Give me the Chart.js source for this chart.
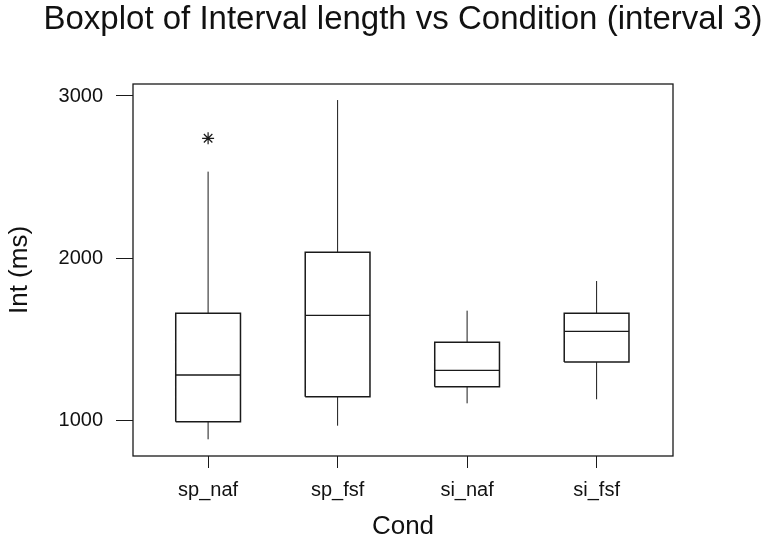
<!DOCTYPE html>
<html>
<head>
<meta charset="utf-8">
<script src="https://cdn.jsdelivr.net/npm/chart.js@4/dist/chart.umd.min.js"></script>
<style>
  body { margin: 0; background: #fff; }
  #wrap { width: 766px; height: 542px; }
</style>
</head>
<body>
<div id="wrap"><canvas id="boxChart"></canvas></div>
<script>
// values
const categories = ["sp_naf", "sp_fsf", "si_naf", "si_fsf"];
const lowWhisker = [881, 965, 1103, 1128];
const q1 = [990, 1144, 1206, 1358];
const median = [1278, 1646, 1307, 1547];
const q3 = [1659, 2035, 1480, 1659];
const highWhisker = [2533, 2975, 1675, 1858];
const outliers = [[2739], [], [], []];
const yTicks = [1000, 2000, 3000];

const half = 0.25;
const ink = "#1a1a1a";

// build the point lists the line datasets need
let boxPts = [], medPts = [], whiskPts = [], outPts = [];
categories.forEach(function (c, i) {
    boxPts.push({x: i - half, y: q1[i]}, {x: i + half, y: q1[i]}, {x: i + half, y: q3[i]},
        {x: i - half, y: q3[i]}, {x: i - half, y: q1[i]}, {x: i, y: null});
    medPts.push({x: i - half, y: median[i]}, {x: i + half, y: median[i]}, {x: i, y: null});
    whiskPts.push({x: i, y: q3[i]}, {x: i, y: highWhisker[i]}, {x: i, y: null},
        {x: i, y: lowWhisker[i]}, {x: i, y: q1[i]}, {x: i, y: null});
    outliers[i].forEach(function (v) { outPts.push({x: i, y: v}); });
});

const frame = {
    id: "frame",
    afterDatasetsDraw(chart) {
        const a = chart.chartArea, ctx = chart.ctx;
        ctx.save();
        ctx.strokeStyle = ink;
        ctx.lineWidth = 1.3;
        ctx.strokeRect(a.left, a.top, a.right - a.left, a.bottom - a.top);
        ctx.restore();
    }
};

const font = "'Liberation Sans', Arial, sans-serif";

new Chart(document.getElementById("boxChart"), {
    type: "scatter",
    data: {
        datasets: [
            {data: boxPts, showLine: true, spanGaps: false, borderColor: ink, borderWidth: 1.5,
                borderJoinStyle: "miter", pointRadius: 0},
            {data: medPts, showLine: true, spanGaps: false, borderColor: ink, borderWidth: 1.3, pointRadius: 0},
            {data: whiskPts, showLine: true, spanGaps: false, borderColor: ink, borderWidth: 1, pointRadius: 0},
            {data: outPts, showLine: false, pointStyle: "star", pointRadius: 6, borderColor: ink,
                borderWidth: 1.2, backgroundColor: ink}
        ]
    },
    options: {
        responsive: true,
        maintainAspectRatio: false,
        animation: false,
        // left padding keeps the title centred over the plot, the right axis below fills the margin
        layout: {padding: {left: 40, right: 0, top: 0, bottom: 0}},
        plugins: {
            legend: {display: false},
            tooltip: {enabled: false},
            title: {
                display: true,
                text: "Boxplot of Interval length vs Condition (interval 3)",
                color: "#111",
                font: {family: font, size: 33, weight: "normal", lineHeight: 1.0},
                padding: {top: 3, bottom: 48}
            }
        },
        scales: {
            x: {
                type: "linear",
                min: -0.58,
                max: 3.59,
                afterBuildTicks: function (s) { s.ticks = categories.map(function (c, i) { return {value: i}; }); },
                afterFit: function (s) { s.height = 86; },
                ticks: {
                    color: "#111",
                    padding: 10,
                    font: {family: font, size: 20},
                    callback: function (v) { return categories[v]; }
                },
                grid: {drawOnChartArea: false, drawTicks: true, tickLength: 12, color: ink, lineWidth: 1},
                border: {display: false},
                title: {
                    display: true,
                    text: "Cond",
                    color: "#111",
                    font: {family: font, size: 26},
                    padding: {top: 0, bottom: 0}
                }
            },
            y: {
                min: 778,
                max: 3074,
                afterBuildTicks: function (s) { s.ticks = yTicks.map(function (v) { return {value: v}; }); },
                afterFit: function (s) { s.width = 93; },
                ticks: {
                    color: "#111",
                    padding: 13,
                    font: {family: font, size: 20},
                    callback: function (v) { return String(v); }
                },
                grid: {drawOnChartArea: false, drawTicks: true, tickLength: 17, color: ink, lineWidth: 1},
                border: {display: false},
                title: {
                    display: true,
                    text: "Int (ms)",
                    color: "#111",
                    font: {family: font, size: 26},
                    padding: {top: -36, bottom: 0}
                }
            },
            yRight: {
                position: "right",
                min: 778,
                max: 3074,
                afterFit: function (s) { s.width = 93; },
                ticks: {display: false},
                grid: {display: false},
                border: {display: false}
            }
        }
    },
    plugins: [frame]
});
</script>
</body>
</html>
